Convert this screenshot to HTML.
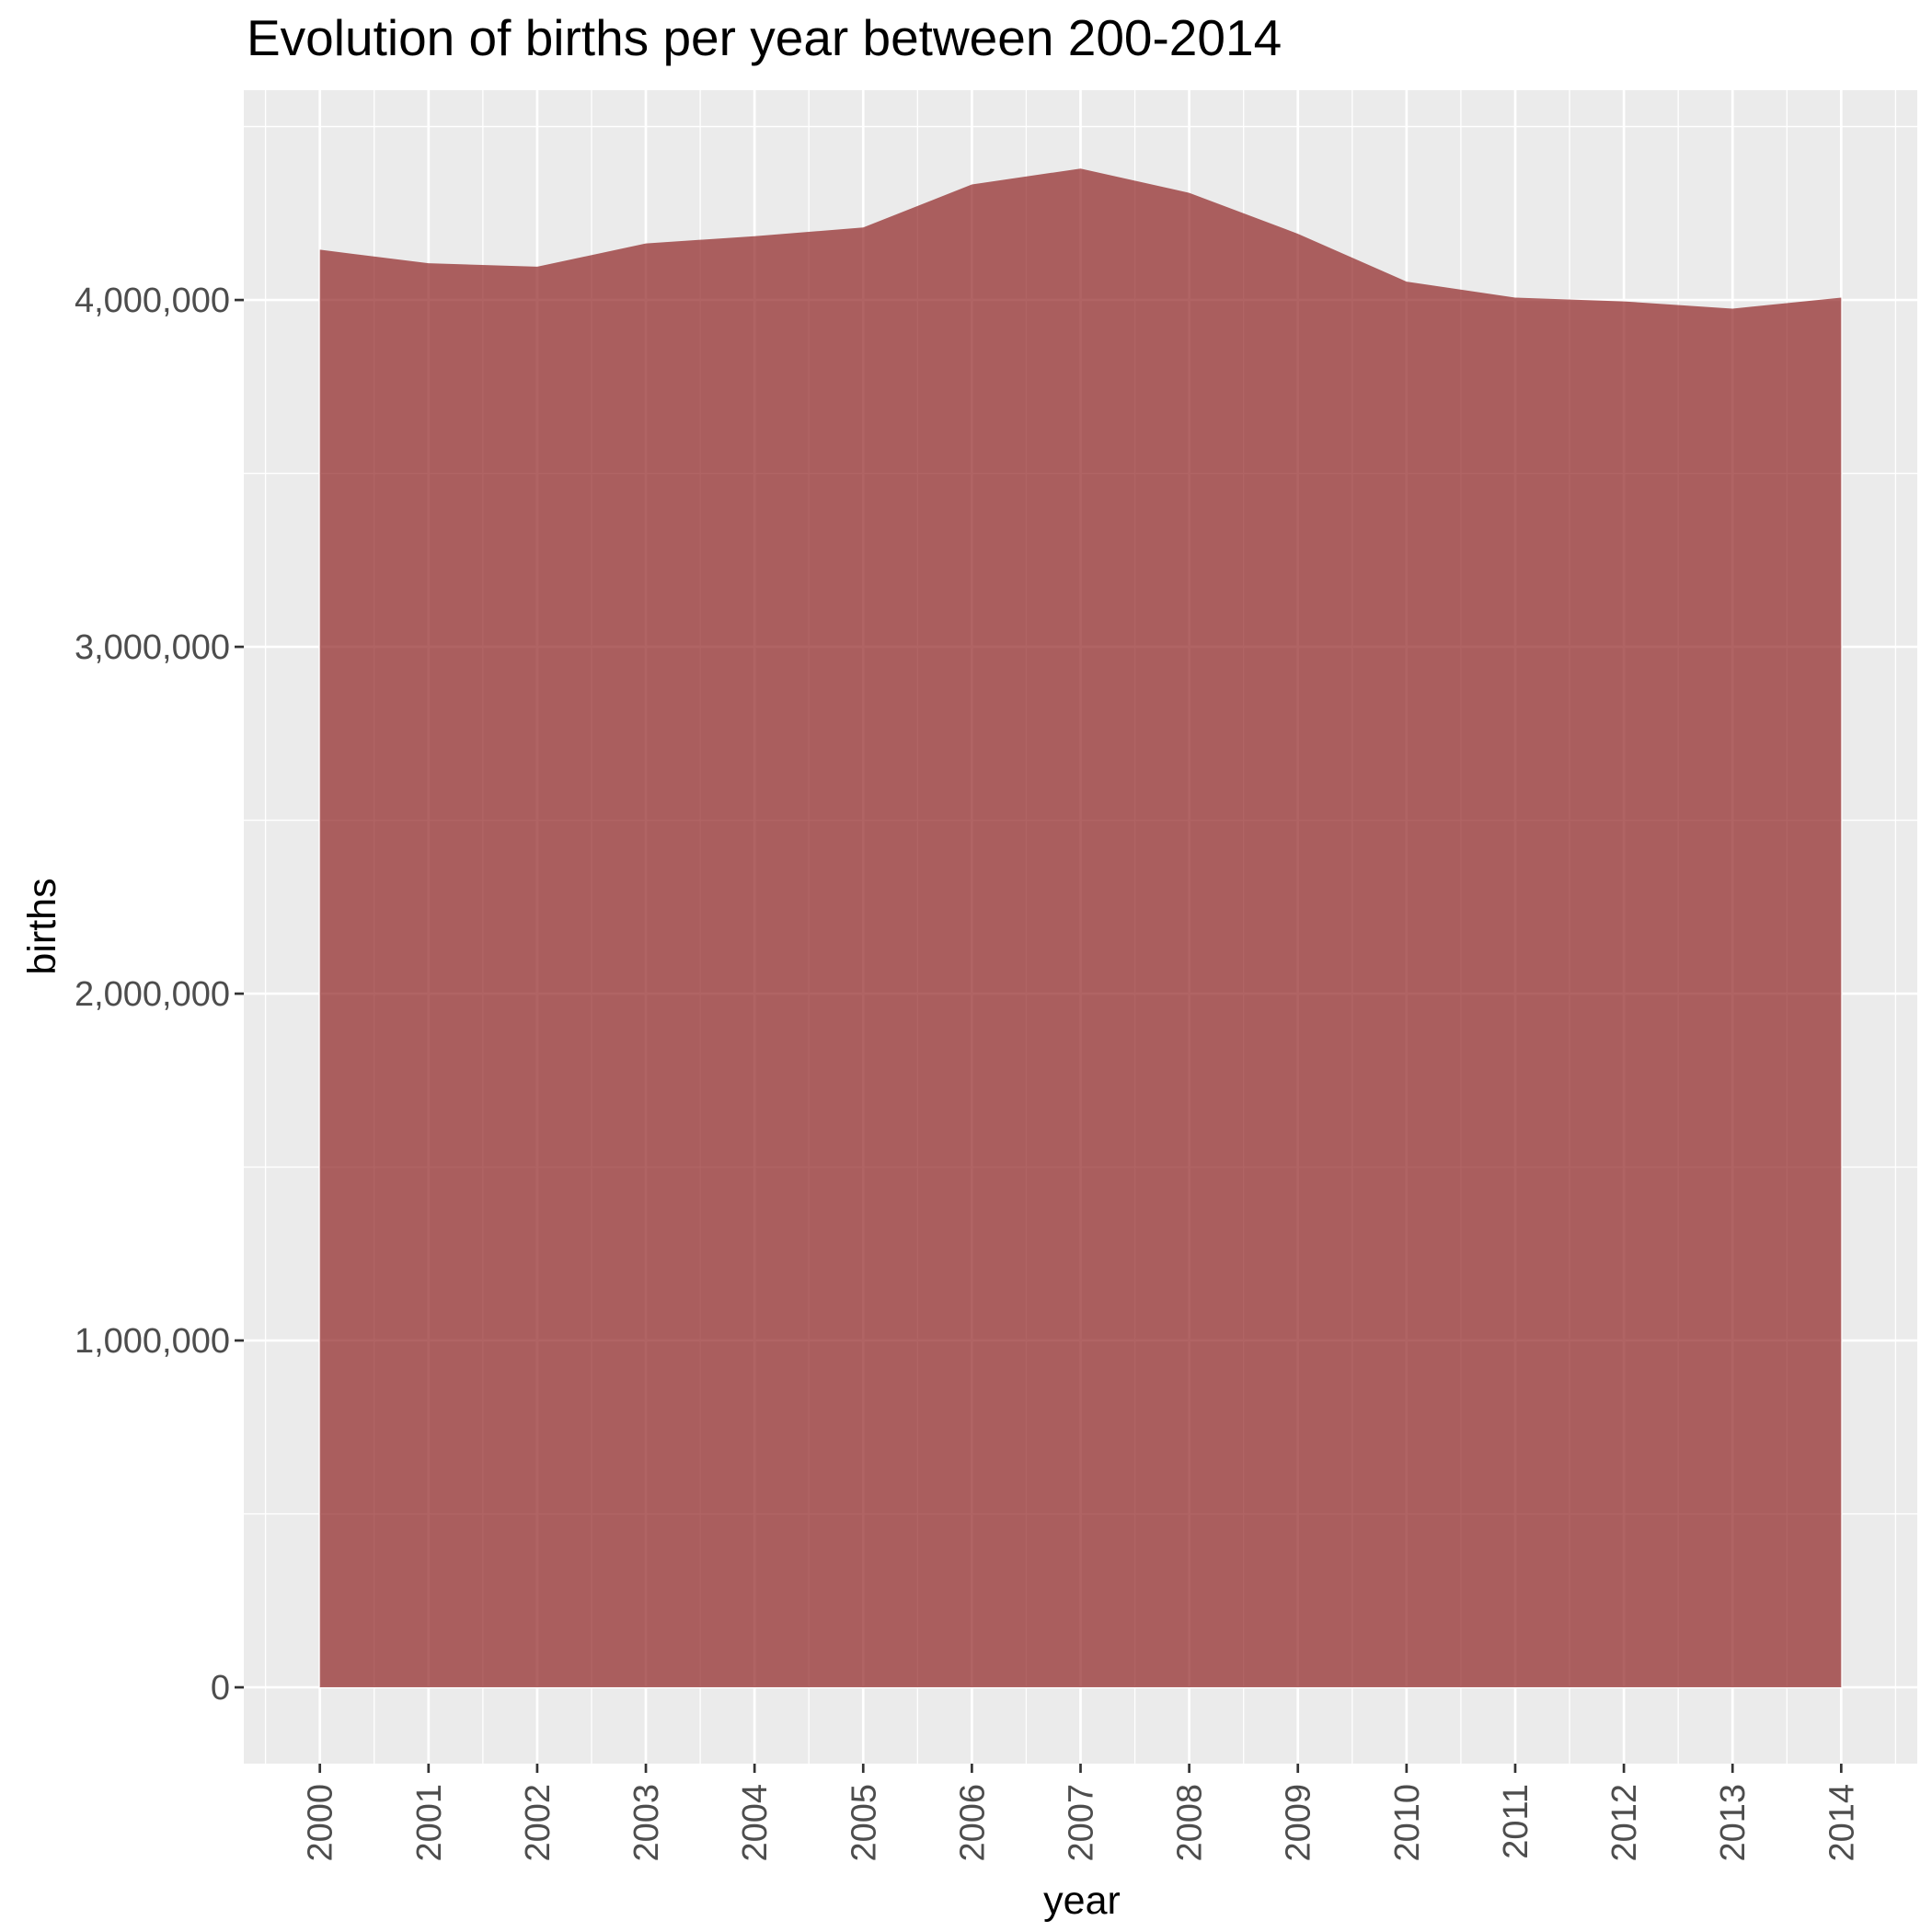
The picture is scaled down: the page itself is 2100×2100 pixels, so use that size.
<!DOCTYPE html>
<html><head><meta charset="utf-8"><style>
html,body{margin:0;padding:0;background:#fff;}
svg{display:block;font-family:"Liberation Sans",Arial,sans-serif;}
</style></head><body>
<svg id="chart" width="2100" height="2100" viewBox="0 0 2100 2100">
<text x="268" y="60" font-size="55" fill="#000">Evolution of births per year between 200-2014</text>
<rect x="265" y="98" width="1819" height="1819" fill="#EBEBEB"/>
<g id="grid"></g>
<path id="area" fill="#8B1A1A" fill-opacity="0.68"/>
<g id="axes"></g>
<text x="1176" y="2080" font-size="43" text-anchor="middle" fill="#000">year</text>
<text transform="translate(60,1007) rotate(-90)" font-size="43" text-anchor="middle" fill="#000">births</text>
</svg>
<script>
const years = [2000,2001,2002,2003,2004,2005,2006,2007,2008,2009,2010,2011,2012,2013,2014];
const births = [4145000,4106000,4096000,4163000,4184000,4209000,4333000,4379000,4309000,4191000,4053000,4007000,3996000,3975000,4007000];
const yTicks = [0,1000000,2000000,3000000,4000000];
const yTickLabels = ["0","1,000,000","2,000,000","3,000,000","4,000,000"];

const L=265,R=2084,T=98,B=1917;
const xMin=1999.3,xMax=2014.7,yMin=-220000,yMax=4605000;
const xs=v=>L+(v-xMin)/(xMax-xMin)*(R-L);
const ys=v=>B-(v-yMin)/(yMax-yMin)*(B-T);
const NS="http://www.w3.org/2000/svg";
function mk(tag,attrs,parent){const e=document.createElementNS(NS,tag);for(const k in attrs)e.setAttribute(k,attrs[k]);parent.appendChild(e);return e;}
const grid=document.getElementById('grid'),axes=document.getElementById('axes');
for(let i=0;i<yTicks.length;i++){const v=yTicks[i]+500000;if(ys(v)>T){const l=mk('line',{x1:L,x2:R,y1:ys(v),y2:ys(v),stroke:'#fff','stroke-width':1.3},grid);

}}
for(let i=0;i<=years.length;i++){const v=years[0]-0.5+i;if(xs(v)>L&&xs(v)<R){const l=mk('line',{x1:xs(v),x2:xs(v),y1:T,y2:B,stroke:'#fff','stroke-width':1.3},grid);

}}
yTicks.forEach((v,i)=>{
 const l=mk('line',{x1:L,x2:R,y1:ys(v),y2:ys(v),stroke:'#fff','stroke-width':2.7},grid);
 
 
 const t=mk('line',{x1:L-10,x2:L,y1:ys(v),y2:ys(v),stroke:'#333','stroke-width':2.7},axes);
 
 
 const tx=mk('text',{x:L-15,y:ys(v)+13,'font-size':38,'text-anchor':'end',fill:'#4D4D4D'},axes);
 tx.textContent=yTickLabels[i];
 
 
});
years.forEach(v=>{
 const l=mk('line',{x1:xs(v),x2:xs(v),y1:T,y2:B,stroke:'#fff','stroke-width':2.7},grid);
 
 
 const t=mk('line',{x1:xs(v),x2:xs(v),y1:B,y2:B+10,stroke:'#333','stroke-width':2.7},axes);
 
 
 const tx=mk('text',{transform:`translate(${xs(v)+13},${B+22}) rotate(-90)`,'font-size':38,'text-anchor':'end',fill:'#4D4D4D'},axes);
 tx.textContent=String(v);
 
 
});
let d=`M${xs(years[0])},${ys(0)}`;
years.forEach((y,i)=>{d+=` L${xs(y)},${ys(births[i])}`;});
d+=` L${xs(years[years.length-1])},${ys(0)} Z`;
document.getElementById('area').setAttribute('d',d);
</script>
</body></html>
